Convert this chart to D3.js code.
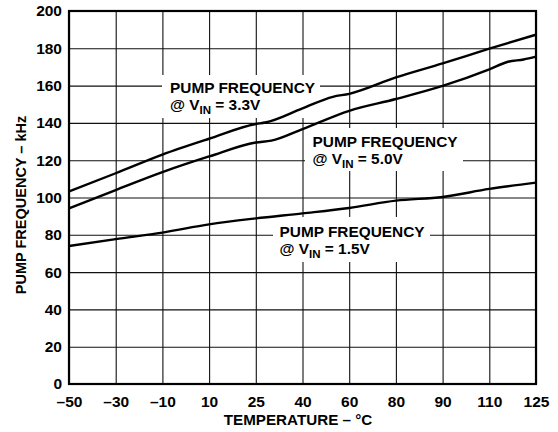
<!DOCTYPE html>
<html><head><meta charset="utf-8">
<script src="https://cdn.jsdelivr.net/npm/d3@7"></script>
<style>
body{margin:0;background:#fff}
text{font-family:"Liberation Sans",Arial,Helvetica,sans-serif;font-weight:bold;fill:#000}
</style>
</head><body>
<svg id="c" width="558" height="432"></svg>
<script>
// ---- data ----
const xTicks = [-50, -30, -10, 10, 25, 40, 60, 80, 90, 110, 125];
const yTicks = [0, 20, 40, 60, 80, 100, 120, 140, 160, 180, 200];

const temps33 = [-50, -30, -10, 10, 25, 28, 40, 53, 60, 80, 90, 110, 125];
const freq33  = [103.3, 113, 123, 131.5, 139.4, 140.2, 147.8, 154, 155.6, 164.4, 171.9, 179.8, 187.3];

const temps50 = [-50, -30, -10, 10, 25, 30, 40, 60, 80, 90, 110, 116, 121, 125];
const freq50  = [94.2, 104, 113.6, 122, 129.5, 130.5, 136.7, 146.5, 152.8, 159.8, 168.7, 172.8, 174, 175.5];

const temps15 = [-50, -30, -10, 10, 25, 40, 60, 80, 90, 110, 125];
const freq15  = [74, 77.7, 81.2, 85.6, 88.8, 91.5, 94.4, 98.3, 100.3, 104.6, 108];

const labels = [
  {vin: "3.3V", x: 170, y: 92.5, box: [162, 75, 158, 43]},
  {vin: "5.0V", x: 312.5, y: 146.5, box: [305, 128, 158, 43]},
  {vin: "1.5V", x: 279.5, y: 236.5, box: [273, 217, 157, 45]}
];

// ---- layout ----
const L = 69, R = 536, T = 11, B = 384;
const svg = d3.select("#c");

const x = d3.scaleLinear()
  .domain(xTicks)
  .range(xTicks.map((d, i) => L + i * (R - L) / (xTicks.length - 1)));
const y = d3.scaleLinear().domain([0, 200]).range([B, T]);

// grid
const grid = svg.append("g");
grid.append("g").attr("transform", `translate(0,${B})`)
  .call(d3.axisBottom(x).tickValues(xTicks).tickSize(-(B - T)).tickFormat(""))
  .call(g => g.select(".domain").remove())
  .call(g => g.selectAll("line").attr("stroke", "#111").attr("stroke-width", 1.1));
grid.append("g").attr("transform", `translate(${L},0)`)
  .call(d3.axisLeft(y).tickValues(yTicks).tickSize(-(R - L)).tickFormat(""))
  .call(g => g.select(".domain").remove())
  .call(g => g.selectAll("line").attr("stroke", "#111").attr("stroke-width", 1.1));

// label boxes (white) over grid
labels.forEach(l => {
  svg.append("rect").attr("x", l.box[0]).attr("y", l.box[1])
    .attr("width", l.box[2]).attr("height", l.box[3]).attr("fill", "#fff");
});

// frame
svg.append("rect").attr("x", L).attr("y", T).attr("width", R - L).attr("height", B - T)
  .attr("fill", "none").attr("stroke", "#000").attr("stroke-width", 2.2);

// tick labels
const fmt = d => d < 0 ? "\u2013" + Math.abs(d) : String(d);
svg.append("g").attr("transform", `translate(0,${B})`)
  .call(d3.axisBottom(x).tickValues(xTicks).tickSize(0).tickPadding(12).tickFormat(fmt))
  .call(g => g.select(".domain").remove())
  .call(g => g.selectAll("text").attr("font-size", 15.5).attr("font-family", null));
svg.append("g").attr("transform", `translate(${L},0)`)
  .call(d3.axisLeft(y).tickValues(yTicks).tickSize(0).tickPadding(7).tickFormat(fmt))
  .call(g => g.select(".domain").remove())
  .call(g => g.selectAll("text").attr("font-size", 15.5).attr("font-family", null));

// curves
const line = d3.line().x(d => x(d[0])).y(d => y(d[1])).curve(d3.curveMonotoneX);
[[temps33, freq33], [temps50, freq50], [temps15, freq15]].forEach(([t, f]) => {
  svg.append("path").datum(t.map((d, i) => [d, f[i]]))
    .attr("d", line).attr("fill", "none").attr("stroke", "#000").attr("stroke-width", 2.4);
});

// annotation text
labels.forEach(l => {
  svg.append("text").attr("x", l.x).attr("y", l.y).attr("font-size", 15.4).text("PUMP FREQUENCY");
  const t = svg.append("text").attr("x", l.x).attr("y", l.y + 17.5).attr("font-size", 15.4);
  t.append("tspan").text("@ V");
  t.append("tspan").attr("font-size", 11.5).attr("dy", 4).text("IN");
  t.append("tspan").attr("dy", -4).text(" = " + l.vin);
});

// axis titles
svg.append("text").attr("x", 298).attr("y", 425).attr("text-anchor", "middle")
  .attr("font-size", 15.2).text("TEMPERATURE \u2013 \u00B0C");
svg.append("text").attr("transform", "translate(26,205) rotate(-90)")
  .attr("text-anchor", "middle").attr("font-size", 14.5).text("PUMP FREQUENCY \u2013 kHz");
</script>
</body></html>
